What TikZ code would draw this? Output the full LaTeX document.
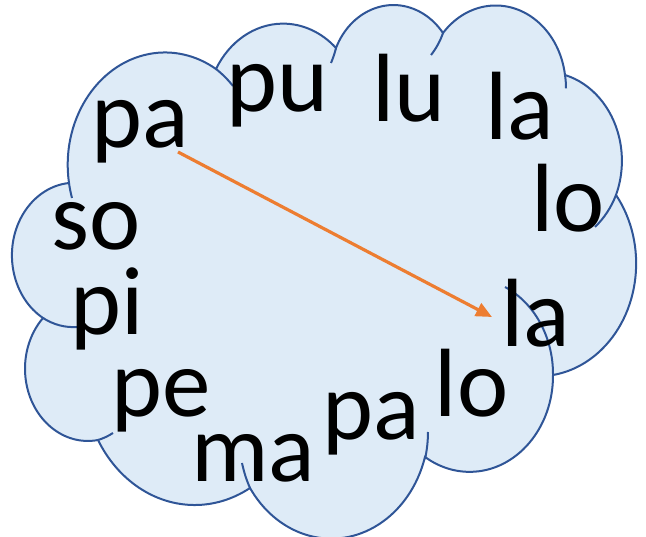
\documentclass[tikz,border=0pt]{standalone}
\usepackage{fontspec}
\setmainfont{Carlito}
\usetikzlibrary{svg.path,arrows.meta}
\definecolor{cloudfill}{HTML}{DEEBF7}
\definecolor{cloudline}{HTML}{2F5597}
\definecolor{arroworange}{HTML}{ED7D31}
\begin{document}
\begin{tikzpicture}[x=1pt,y=-1pt,
  cloudshape/.style={fill=cloudfill,draw=cloudline,line width=2pt},
  hookline/.style={draw=cloudline,line width=2pt},
  word/.style={font=\fontsize{97}{97}\selectfont,inner sep=0pt,anchor=base,text=black},
  orangearrow/.style={draw=arroworange,line width=3.2pt,-{Triangle[length=16pt,width=14pt]}}]
\useasboundingbox (0,0) rectangle (646,537);
\begin{scope}[yscale=-1]
\path[cloudshape] svg "M 69 183 A 97.4 112.3 0 0 1 216 69 A 76.9 88.8 0 0 1 336 48 A 62.9 72.6 0 0 1 443 33 A 70 80.6 0 0 1 565 75 A 76.9 88.9 0 0 1 616 195 A 97.7 112.7 0 0 1 553 375 A 83.4 96.1 0 0 1 425 458 A 97.4 112.6 0 0 1 250 488 A 111.3 128.8 0 0 1 98 440 A 62.9 72.3 0 0 1 43 318 A 62.7 72.6 0 0 1 69 183 Z";
\path[hookline] svg "M 72 198 A 97.4 112.3 0 0 1 69 183";
\path[hookline] svg "M 216 69 A 97.4 112.3 0 0 1 233 86";
\path[hookline] svg "M 336 48 A 76.9 88.8 0 0 1 331 63";
\path[hookline] svg "M 443 33 A 62.9 72.6 0 0 1 431 55";
\path[hookline] svg "M 565 75 A 70 80.6 0 0 1 566 88";
\path[hookline] svg "M 616 195 A 76.9 88.9 0 0 1 595 227";
\path[hookline] svg "M 505 287 A 83.4 96.1 0 0 1 553 375";
\path[hookline] svg "M 428 432 A 97.4 112.6 0 0 1 425 458";
\path[hookline] svg "M 250 488 A 97.4 112.6 0 0 1 242 463";
\path[hookline] svg "M 113 433 A 62.9 72.3 0 0 1 98 440";
\path[hookline] svg "M 77 327 A 62.7 72.6 0 0 1 43 318";
\end{scope}
\node[word] (pa1) at (140.5,148) {pa};
\node[word] (pu) at (277.5,112) {pu};
\node[word] (lu) at (409,122) {lu};
\node[word] (la1) at (519.5,140) {la};
\node[word] (lo1) at (568,232) {lo};
\node[word] (so) at (96,250) {so};
\node[word] (pi) at (107,335) {pi};
\node[word] (pe) at (161.5,417) {pe};
\node[word] (ma) at (253,482) {ma};
\node[word] (pa2) at (371.5,440) {pa};
\node[word] (lo2) at (471.5,417) {lo};
\node[word] (la2) at (535.5,347) {la};
\coordinate (arrowstart) at (178,152);
\coordinate (arrowend) at (492,317);
\draw[orangearrow] (arrowstart) -- (arrowend);
\end{tikzpicture}
\end{document}
